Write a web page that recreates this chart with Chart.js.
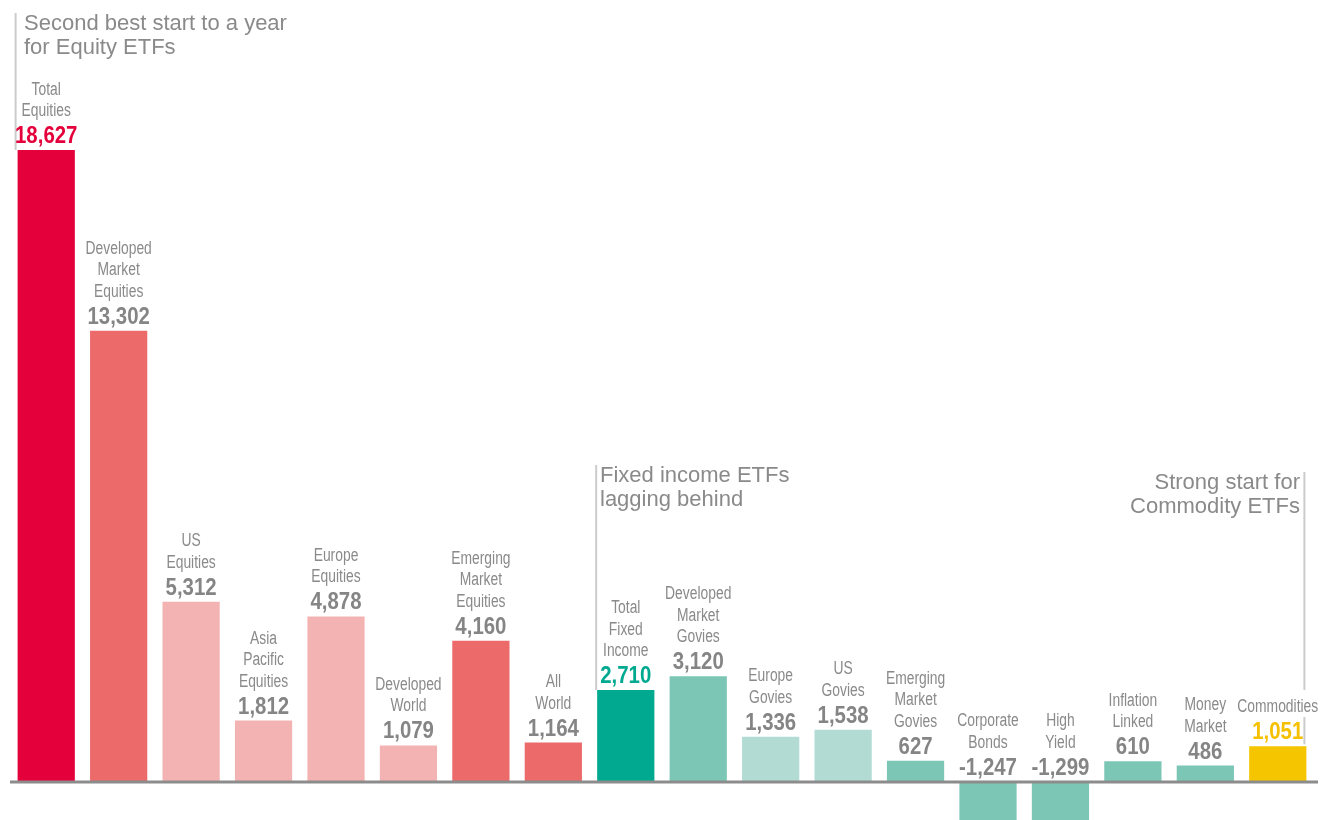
<!DOCTYPE html>
<html>
<head>
<meta charset="utf-8">
<script src="https://cdn.jsdelivr.net/npm/chart.js@4"></script>
<style>
  body { margin: 0; background: #fff; }
  #wrap { width: 1328px; height: 820px; }
</style>
</head>
<body>
<div id="wrap"><canvas id="flowChart" width="1328" height="820"></canvas></div>
<script>
const categories = [
  ["Total", "Equities"], ["Developed", "Market", "Equities"], ["US", "Equities"],
  ["Asia", "Pacific", "Equities"], ["Europe", "Equities"], ["Developed", "World"],
  ["Emerging", "Market", "Equities"], ["All", "World"], ["Total", "Fixed", "Income"],
  ["Developed", "Market", "Govies"], ["Europe", "Govies"], ["US", "Govies"],
  ["Emerging", "Market", "Govies"], ["Corporate", "Bonds"], ["High", "Yield"],
  ["Inflation", "Linked"], ["Money", "Market"], ["Commodities"]
];
const flows = [18627, 13302, 5312, 1812, 4878, 1079, 4160, 1164, 2710, 3120, 1336, 1538, 627, -1247, -1299, 610, 486, 1051];

const barColors = [
  "#e4003b", "#ec6a6a", "#f4b3b3", "#f4b3b3", "#f4b3b3", "#f4b3b3", "#ec6a6a", "#ec6a6a",
  "#00a990", "#7cc6b6", "#b2dcd3", "#b2dcd3", "#7cc6b6", "#7cc6b6", "#7cc6b6", "#7cc6b6", "#7cc6b6",
  "#f5c500"
];
const valueColors = flows.map((v, i) => i === 0 ? "#e4003b" : i === 8 ? "#00a990" : i === 17 ? "#f5c000" : "#858585");

const SANS = '"Liberation Sans", Arial, sans-serif';
const GREY = "#8a8a8a";

// condensed look: squeeze text horizontally around its centre
function narrowText(ctx, text, x, y, sx) {
  ctx.save();
  ctx.translate(x, y);
  ctx.scale(sx, 1);
  ctx.fillText(text, 0, 0);
  ctx.restore();
}

// labels above each bar, annotations, baseline
const labelPlugin = {
  id: "barLabels",
  afterDatasetsDraw(chart) {
    const ctx = chart.ctx;
    const y0 = chart.scales.y.getPixelForValue(0);
    const area = chart.chartArea;
    const bars = chart.getDatasetMeta(0).data;

    ctx.save();
    // baseline
    ctx.strokeStyle = "#8c8c8c";
    ctx.lineWidth = 3;
    ctx.beginPath();
    ctx.moveTo(area.left, y0);
    ctx.lineTo(area.right + 4, y0);
    ctx.stroke();

    // annotation rules
    ctx.strokeStyle = "#cccccc";
    ctx.lineWidth = 2;
    const vline = (x, a, b) => { ctx.beginPath(); ctx.moveTo(x, a); ctx.lineTo(x, b); ctx.stroke(); };
    const first = bars[0], fixed = bars[8], comm = bars[17];
    vline(first.x - first.width / 2 - 2, 13, first.y);
    vline(fixed.x - fixed.width / 2 - 1, 465, fixed.y);
    vline(comm.x + comm.width / 2 - 2, 472, 690);
    vline(comm.x + comm.width / 2 - 2, 717, comm.y - 2);

    ctx.textAlign = "center";
    ctx.textBaseline = "alphabetic";
    bars.forEach((el, i) => {
      const anchor = flows[i] >= 0 ? el.y : y0;
      ctx.font = "bold 24px " + SANS;
      ctx.fillStyle = valueColors[i];
      narrowText(ctx, flows[i].toLocaleString("en-US"), el.x, anchor - 7, 0.85);
      ctx.font = "18px " + SANS;
      ctx.fillStyle = GREY;
      const lines = categories[i];
      lines.forEach((ln, j) => {
        const fromLast = lines.length - 1 - j;
        narrowText(ctx, ln, el.x, anchor - 34 - 21.5 * fromLast, 0.77);
      });
    });

    // annotations
    ctx.font = "22px " + SANS;
    ctx.fillStyle = GREY;
    ctx.textAlign = "left";
    ctx.fillText("Second best start to a year", 24, 30);
    ctx.fillText("for Equity ETFs", 24, 54);
    ctx.fillText("Fixed income ETFs", 600, 482);
    ctx.fillText("lagging behind", 600, 506);
    ctx.textAlign = "right";
    ctx.fillText("Strong start for", 1300, 489);
    ctx.fillText("Commodity ETFs", 1300, 513);
    ctx.restore();
  }
};

new Chart(document.getElementById("flowChart").getContext("2d"), {
  type: "bar",
  data: {
    labels: categories,
    datasets: [{
      data: flows,
      backgroundColor: barColors,
      borderWidth: 0,
      barPercentage: 0.79,
      categoryPercentage: 1.0
    }]
  },
  options: {
    responsive: false,
    animation: false,
    layout: { padding: { left: 10, right: 14, top: 0, bottom: 0 } },
    plugins: { legend: { display: false }, tooltip: { enabled: false } },
    scales: {
      x: { display: false },
      y: { display: false, min: -1120, max: 23048 }
    }
  },
  plugins: [labelPlugin]
});
</script>
</body>
</html>
